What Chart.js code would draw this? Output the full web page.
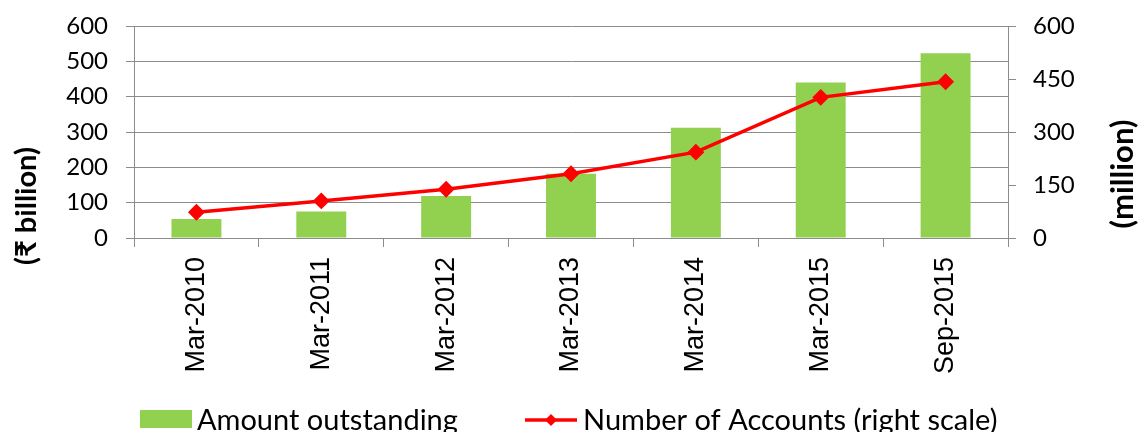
<!DOCTYPE html>
<html>
<head>
<meta charset="utf-8">
<script src="https://cdn.jsdelivr.net/npm/chart.js@4.4.1/dist/chart.umd.min.js"></script>
<style>
  html, body { margin: 0; padding: 0; background: #fff; overflow: hidden; }
  #wrap { width: 1140px; height: 432px; position: relative; }
</style>
</head>
<body>
<div id="wrap"><canvas id="chart"></canvas></div>
<script>
// data
const categories = ['Mar-2010', 'Mar-2011', 'Mar-2012', 'Mar-2013', 'Mar-2014', 'Mar-2015', 'Sep-2015'];
const amountOutstanding = [54, 75, 119, 182, 312, 440, 523];   // ₹ billion, left scale
const numberOfAccounts = [73, 105, 138, 182, 243, 398, 442];   // million, right scale
const leftTicks = [0, 100, 200, 300, 400, 500, 600];
const rightTicks = [0, 150, 300, 450, 600];

const GRID = '#8c8c8c';
const tickFont = { family: 'Lato, "Noto Sans", sans-serif', size: 24 };

// pin the plot box so it sits where the original does
function pinY(width) {
    return s => {
        s.width = width;
        s.paddingTop = 0;
        s.paddingBottom = 0;
    };
}

// axis titles + legend are drawn by hand, Excel style
const extrasPlugin = {
    id: 'extras',
    afterDraw(chart) {
        const ctx = chart.ctx;
        ctx.save();
        ctx.fillStyle = '#000';
        ctx.textAlign = 'center';
        ctx.textBaseline = 'middle';
        ctx.font = 'bold 29px Lato, "Noto Sans", "DejaVu Sans", sans-serif';

        ctx.save();
        ctx.translate(27, 206);
        ctx.rotate(-Math.PI / 2);
        ctx.fillText('(₹ billion)', 0, 0);
        ctx.restore();

        ctx.font = 'bold 31px Lato, "Noto Sans", "DejaVu Sans", sans-serif';
        ctx.save();
        ctx.translate(1123, 174);
        ctx.rotate(-Math.PI / 2);
        ctx.fillText('(million)', 0, 0);
        ctx.restore();

        // legend
        const bar = chart.data.datasets[0];
        const line = chart.data.datasets[1];
        ctx.font = '29px Lato, "Noto Sans", sans-serif';
        ctx.textAlign = 'left';
        ctx.textBaseline = 'alphabetic';

        ctx.fillStyle = bar.backgroundColor;
        ctx.fillRect(140, 410, 52, 18);
        ctx.fillStyle = '#000';
        ctx.fillText(bar.label, 197, 430);

        ctx.strokeStyle = line.borderColor;
        ctx.lineWidth = 3.5;
        ctx.beginPath();
        ctx.moveTo(525, 420);
        ctx.lineTo(577, 420);
        ctx.stroke();
        ctx.fillStyle = line.pointBackgroundColor;
        ctx.beginPath();
        ctx.moveTo(551, 414); ctx.lineTo(557, 420); ctx.lineTo(551, 426); ctx.lineTo(545, 420);
        ctx.closePath();
        ctx.fill();
        ctx.fillStyle = '#000';
        ctx.fillText(line.label, 583, 430);
        ctx.restore();
    }
};

new Chart(document.getElementById('chart'), {
    type: 'bar',
    data: {
        labels: categories,
        datasets: [{
            type: 'bar',
            label: 'Amount outstanding',
            data: amountOutstanding,
            backgroundColor: '#92D050',
            yAxisID: 'yLeft',
            barPercentage: 0.4,
            categoryPercentage: 1.0,
            order: 1
        }, {
            type: 'line',
            label: 'Number of Accounts (right scale)',
            data: numberOfAccounts,
            borderColor: '#FF0000',
            backgroundColor: '#FF0000',
            pointBackgroundColor: '#FF0000',
            pointBorderColor: '#FF0000',
            pointStyle: 'rectRot',
            pointRadius: 6,
            borderWidth: 3.5,
            tension: 0,
            yAxisID: 'yRight',
            order: 0
        }]
    },
    options: {
        responsive: true,
        maintainAspectRatio: false,
        animation: false,
        layout: { padding: { top: 26, bottom: 0, left: 0, right: 0 } },
        plugins: {
            legend: { display: false },
            tooltip: { enabled: false }
        },
        scales: {
            x: {
                offset: true,
                grid: { offset: true, drawOnChartArea: false, drawTicks: true, tickLength: 9, color: GRID },
                border: { color: GRID },
                ticks: {
                    color: '#000',
                    font: { family: '"Liberation Sans", Arial, sans-serif', size: 27 },
                    minRotation: 90, maxRotation: 90, padding: 10, autoSkip: false
                },
                afterFit: s => { s.height = 194; s.paddingLeft = 0; s.paddingRight = 0; }
            },
            yLeft: {
                position: 'left',
                min: 0, max: 600,
                afterBuildTicks: s => { s.ticks = leftTicks.map(v => ({ value: v })); },
                grid: { color: GRID, tickLength: 8 },
                border: { color: GRID },
                ticks: { color: '#000', font: tickFont, padding: 18 },
                afterFit: pinY(134)
            },
            yRight: {
                position: 'right',
                min: 0, max: 600,
                afterBuildTicks: s => { s.ticks = rightTicks.map(v => ({ value: v })); },
                grid: { drawOnChartArea: false, color: GRID, tickLength: 8 },
                border: { color: GRID },
                ticks: { color: '#000', font: tickFont, padding: 17 },
                afterFit: pinY(132)
            }
        }
    },
    plugins: [extrasPlugin]
});
</script>
</body>
</html>
